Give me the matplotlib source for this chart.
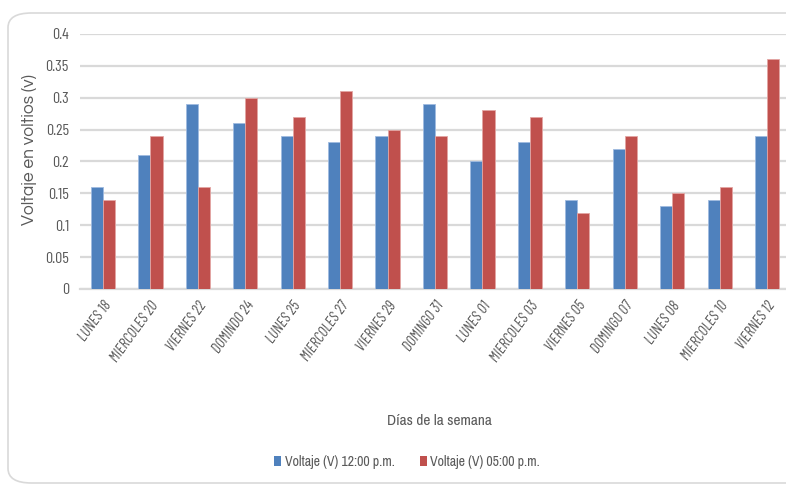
import matplotlib
matplotlib.use("Agg")
import matplotlib.pyplot as plt
import numpy as np
from matplotlib.patches import FancyBboxPatch
from matplotlib import font_manager
from matplotlib.font_manager import FontProperties

dias = ["LUNES 18", "MIERCOLES 20", "VIERNES 22", "DOMINDO 24", "LUNES 25",
        "MIERCOLES 27", "VIERNES 29", "DOMINGO 31", "LUNES 01", "MIERCOLES 03",
        "VIERNES 05", "DOMINGO 07", "LUNES 08", "MIERCOLES 10", "VIERNES 12"]
v_12pm = [0.16, 0.21, 0.29, 0.26, 0.24, 0.23, 0.24, 0.29, 0.20, 0.23,
          0.14, 0.22, 0.13, 0.14, 0.24]
v_05pm = [0.14, 0.24, 0.16, 0.30, 0.27, 0.31, 0.25, 0.24, 0.28, 0.27,
          0.12, 0.24, 0.15, 0.16, 0.36]
y_ticks = [0, 0.05, 0.1, 0.15, 0.2, 0.25, 0.3, 0.35, 0.4]
y_tick_labels = ["0", "0.05", "0.1", "0.15", "0.2", "0.25", "0.3", "0.35", "0.4"]

installed = {f.name for f in font_manager.fontManager.ttflist}


def pick(cands):
    for c in cands:
        if c in installed:
            return c
    return "DejaVu Sans"


narrow = pick(["Archivo Narrow", "Roboto Condensed", "Liberation Sans"])
tight = pick(["Barlow Condensed", "Fira Sans Extra Condensed", "Archivo Narrow"])
gothic = pick(["Questrial", "Didact Gothic", "DejaVu Sans"])
grey = "#595959"

# regular-weight italic face of the condensed family for the day labels
italic_files = [f for f in font_manager.fontManager.ttflist
                if f.name == tight and f.style == "italic" and f.weight in (400, "normal", "regular")]
if italic_files:
    day_font = FontProperties(fname=italic_files[0].fname, size=11)
else:
    day_font = FontProperties(family=narrow, style="italic", size=9.5)

W, H = 786, 486
fig = plt.figure(figsize=(W / 100, H / 100), dpi=100)

# rounded chart frame, open on the right edge
frame = FancyBboxPatch((8 / W, 3 / H), 1.2, (H - 16) / H,
                       boxstyle="round,pad=0,rounding_size=0.03",
                       transform=fig.transFigure, facecolor="white",
                       edgecolor="#d9d9d9", linewidth=1.2, zorder=-5)
fig.patches.append(frame)

ax = fig.add_axes([80 / W, 1 - 289 / H, (W - 80) / W, (289 - 34) / H])
ax.set_facecolor("none")
ax.set_zorder(2)

x = np.arange(len(dias))
bw = 0.255
ax.bar(x - bw / 2, v_12pm, width=bw, color="#4F81BD", edgecolor="#9fbbe0",
       linewidth=0.6, label="Voltaje (V) 12:00 p.m.", zorder=3)
ax.bar(x + bw / 2, v_05pm, width=bw, color="#C0504D", edgecolor="#e3a5a3",
       linewidth=0.6, label="Voltaje (V) 05:00 p.m.", zorder=3)

ax.set_xlim(-0.485, 14.4)
ax.set_ylim(0, 0.4)
ax.set_yticks(y_ticks)
ax.set_yticklabels(y_tick_labels, fontfamily=tight, fontsize=11.5, color=grey)
ax.yaxis.grid(True, color="#d9d9d9", linewidth=1.6, zorder=0)
ax.set_axisbelow(True)
ax.tick_params(axis="both", length=0)
ax.tick_params(axis="y", pad=8)
for s in ["top", "right", "left"]:
    ax.spines[s].set_visible(False)
ax.spines["bottom"].set_color("#d9d9d9")
ax.spines["bottom"].set_linewidth(1.6)

ax.set_xticks(x)
ax.set_xticklabels(dias, rotation=54, ha="right", rotation_mode="anchor",
                   fontproperties=day_font, color=grey)
ax.tick_params(axis="x", pad=7)

fig.text(30 / W, 1 - 150 / H, "Voltaje en voltios (v)", rotation=90,
         ha="center", va="center", fontfamily=gothic, fontsize=12.5, color=grey)

fig.text(439 / W, 1 - 421 / H, "Días de la semana", ha="center", va="center",
         fontfamily=narrow, fontsize=11, color=grey)

leg = fig.legend(loc="center", bbox_to_anchor=(407 / W, 1 - 462 / H), ncol=2,
                 frameon=False, handlelength=0.5, handleheight=0.8,
                 handletextpad=0.25, columnspacing=1.8,
                 prop={"family": narrow, "size": 10})
for t in leg.get_texts():
    t.set_color(grey)
for hnd in leg.legend_handles:
    hnd.set_linewidth(0)

fig.savefig("out.png", dpi=100)
